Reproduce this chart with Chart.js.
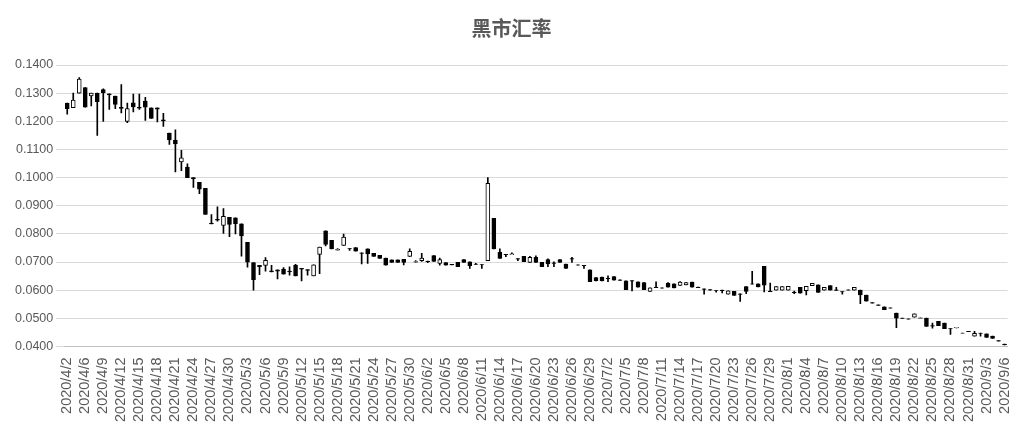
<!DOCTYPE html>
<html><head><meta charset="utf-8">
<script src="https://cdn.jsdelivr.net/npm/chart.js@4.4.0/dist/chart.umd.min.js"></script>
<style>html,body{margin:0;padding:0;background:#fff}#w{width:1025px;height:433px}</style>
</head><body><div id="w"><canvas id="c"></canvas></div>
<script>
const openV=[.1265,.1248,.130,.132,.129,.130,.1313,.1298,.129,.1250,.120,.1266,.1250,.1272,.1248,.1248,.1205,.1158,.1133,.1056,.1037,.1000,.0983,.0962,.0838,.0852,.0830,.0859,.0857,.0836,.0770,.0698,.0688,.0688,.0669,.0672,
.0675,.0668,.0689,.0678,.0673,.0651,.0727,.0811,.0777,.0742,.0759,.0748,.0751,.0733,.0747,.0731,.0724,.0714,.0708,.0708,.0710,.0720,.0700,.0705,.0703,.0723,.0695,.0698,.0692,.0699,.0709,.0701,.0693,.0691,.0705,.0855,.0735,.0727,
.0726,.0712,.0720,.0699,.0717,.0699,.0709,.0697,.0709,.0693,.0712,.0690,.0688,.0672,.0645,.0647,.0642,.0648,.0637,.0633,.0634,.0630,.0627,.0596,.0611,.0608,.0624,.0623,.0617,.0619,.0629,.0611,.0605,.0602,.0599,.0600,.0586,.0596,.0587,.0613,.0623,.0623,.0685,.0597,
.0600,.0600,.0600,.0593,.0610,.0598,.0616,.0619,.0600,.0616,.0601,.0595,.0601,.0600,.0600,.0583,.0556,.0548,.0541,.0537,.0519,.0501,.0498,.0504,.0500,.0501,.0474,.0489,.0483,.0464,.0466,.0448,.0454,.0437,.0448,.0445,.0437,.0421,.0409];
const closeV=[.1245,.1275,.135,.125,.130,.127,.1302,.1294,.126,.1246,.1245,.1251,.1247,.1250,.121,.1243,.1201,.1134,.1120,.1070,.1000,.0995,.0959,.0869,.0835,.0849,.0862,.0834,.0836,.0793,.0700,.0637,.0684,.0706,.0665,.0668,
.0657,.0665,.0651,.0675,.0670,.0690,.0753,.0763,.0747,.0745,.0789,.0747,.0739,.0731,.0729,.0720,.0713,.0689,.0699,.0699,.0699,.0738,.0702,.0714,.0701,.0702,.0709,.0689,.0690,.0684,.0699,.0687,.0692,.0690,.0980,.0747,.0713,.0726,
.0729,.0710,.0701,.0717,.0699,.0684,.0693,.0695,.0699,.0677,.0710,.0689,.0687,.0630,.0633,.0633,.0640,.0636,.0635,.0602,.0632,.0611,.0602,.0608,.0609,.0607,.0611,.0608,.0629,.0627,.0611,.0609,.0603,.0600,.0598,.0598,.0598,.0581,.0585,.0596,.0621,.0612,.0618,.0595,
.0613,.0613,.0614,.0591,.0589,.0614,.0624,.0592,.0610,.0600,.0599,.0594,.0600,.0610,.0583,.0561,.0554,.0546,.0531,.0536,.0501,.0500,.0497,.0516,.0502,.0471,.0472,.0474,.0463,.0462,.0468,.0447,.0453,.0447,.0446,.0432,.0429,.0419,.0406];
const highV=[.1265,.130,.1355,.132,.130,.130,.1315,.1298,.129,.133,.1265,.1297,.1297,.1285,.1248,.1248,.1228,.1158,.117,.1097,.1049,.1000,.0983,.0962,.0869,.0896,.0890,.0859,.0857,.0836,.0770,.0698,.0688,.0716,.0688,.0672,
.0680,.0683,.0692,.0678,.0673,.0690,.0753,.0811,.0777,.0748,.0799,.0748,.0751,.0733,.0747,.0731,.0724,.0714,.0708,.0708,.0710,.0747,.0705,.0731,.0703,.0723,.0714,.0698,.0692,.0699,.0709,.0701,.0695,.0691,.1000,.0855,.0747,.0727,
.0733,.0712,.0720,.0720,.0722,.0699,.0711,.0701,.0709,.0693,.0717,.0690,.0688,.0672,.0645,.0647,.0651,.0648,.0637,.0633,.0634,.0630,.0627,.0608,.0630,.0608,.0627,.0623,.0631,.0627,.0629,.0611,.0605,.0602,.0599,.0600,.0598,.0596,.0587,.0613,.0667,.0623,.0685,.0625,
.0613,.0613,.0614,.0597,.0610,.0614,.0624,.0619,.0610,.0616,.0610,.0595,.0601,.0610,.0600,.0583,.0556,.0548,.0541,.0537,.0519,.0501,.0498,.0516,.0502,.0501,.0483,.0489,.0483,.0464,.0468,.0448,.0454,.0454,.0448,.0445,.0437,.0421,.0409];
const lowV=[.1225,.1248,.130,.125,.1255,.115,.120,.1242,.1245,.123,.1195,.1233,.1242,.1203,.121,.1198,.1182,.1118,.102,.1025,.1000,.0965,.0943,.0869,.0835,.0845,.0802,.0790,.0800,.0721,.0682,.0600,.0655,.0668,.0665,.0640,
.0657,.0653,.0651,.0633,.0653,.0651,.0659,.0757,.0747,.0742,.0759,.0741,.0739,.0693,.0695,.0720,.0713,.0689,.0699,.0699,.0690,.0720,.0700,.0702,.0698,.0702,.0689,.0689,.0690,.0684,.0699,.0677,.0692,.0677,.0705,.0747,.0713,.0719,
.0726,.0705,.0701,.0699,.0699,.0684,.0684,.0684,.0699,.0677,.0699,.0689,.0677,.0630,.0633,.0633,.0630,.0636,.0635,.0602,.0597,.0611,.0602,.0596,.0609,.0607,.0611,.0608,.0617,.0619,.0611,.0609,.0586,.0600,.0593,.0590,.0586,.0581,.0560,.0588,.0621,.0612,.0594,.0595,
.0600,.0600,.0600,.0588,.0589,.0583,.0616,.0592,.0600,.0600,.0599,.0586,.0600,.0600,.0552,.0561,.0554,.0546,.0531,.0536,.0467,.0500,.0497,.0504,.0500,.0471,.0465,.0474,.0463,.0443,.0466,.0447,.0453,.0437,.0437,.0432,.0429,.0419,.0406];
const yTicks=[.04,.05,.06,.07,.08,.09,.10,.11,.12,.13,.14];
// categories: 2020/4/2, then daily from 2020/4/4 to 2020/9/6
const categories=['2020/4/2'];
(function(){const d=new Date(2020,3,4),end=new Date(2020,8,6);while(d<=end){categories.push(d.getFullYear()+'/'+(d.getMonth()+1)+'/'+d.getDate());d.setDate(d.getDate()+1);}})();

const bodies=openV.map((o,i)=>[o,closeV[i]]);
const wicks=lowV.map((l,i)=>[l,highV[i]]);
const fills=openV.map((o,i)=>closeV[i]>o?'#ffffff':'#000000');
new Chart(document.getElementById('c'),{
  type:'bar',
  data:{labels:categories,datasets:[
    {data:bodies,backgroundColor:fills,borderColor:'#000',borderWidth:1,borderSkipped:false,barThickness:4,grouped:false,order:1},
    {data:wicks,backgroundColor:'#000',borderWidth:0,barThickness:1,grouped:false,order:2}
  ]},
  options:{responsive:true,maintainAspectRatio:false,animation:false,
    layout:{padding:{left:12,right:14,top:10,bottom:8}},
    plugins:{legend:{display:false},tooltip:{enabled:false},
      title:{display:true,text:'黑市汇率',color:'#595959',font:{size:20,family:'Noto Sans CJK SC',weight:'bold'},padding:{top:6,bottom:25}}},
    scales:{
      x:{grid:{display:false,drawTicks:true},border:{color:'#bfbfbf'},
        ticks:{autoSkip:false,minRotation:90,maxRotation:90,color:'#595959',font:{size:14.5,family:'Liberation Sans'},
          callback:(v,i)=>i%3===0?categories[i]:''}},
      y:{min:.04,max:.14,afterBuildTicks:a=>{a.ticks=yTicks.map(v=>({value:v}));},
        grid:{color:'#d9d9d9'},border:{display:false},
        ticks:{color:'#595959',font:{size:12.5,family:'Liberation Sans'},callback:v=>v.toFixed(4)}}
    }}
});
</script></body></html>
